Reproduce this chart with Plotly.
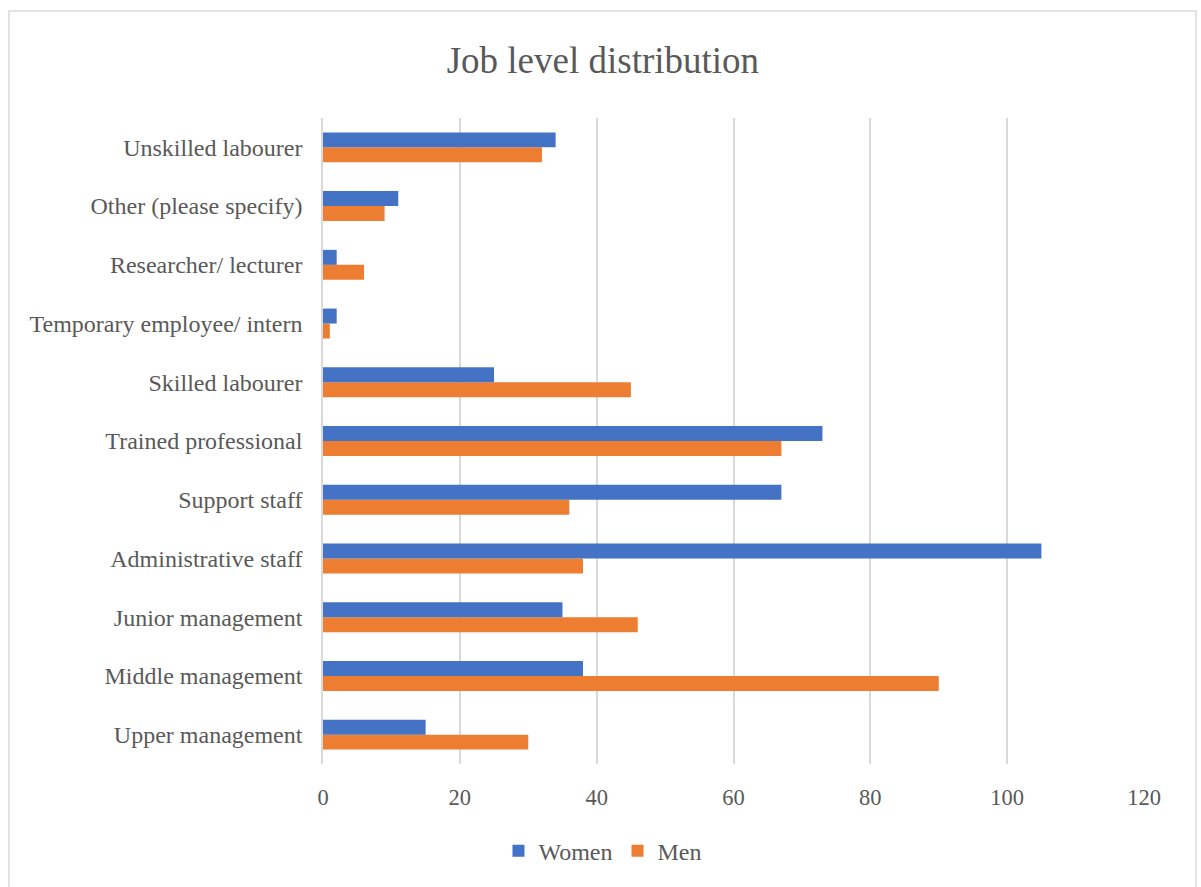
import plotly.graph_objects as go

# Job levels, listed bottom to top
categories = [
    "Upper management",
    "Middle management",
    "Junior management",
    "Administrative staff",
    "Support staff",
    "Trained professional",
    "Skilled labourer",
    "Temporary employee/ intern",
    "Researcher/ lecturer",
    "Other (please specify)",
    "Unskilled labourer",
]
women = [15, 38, 35, 105, 67, 73, 25, 2, 2, 11, 34]
men = [30, 90, 46, 38, 36, 67, 45, 1, 6, 9, 32]
x_ticks = [0, 20, 40, 60, 80, 100, 120]

FONT = "Liberation Serif, Times New Roman, serif"
TEXT = "#595959"
GRID = "#D9D9D9"

fig = go.Figure()
fig.add_trace(go.Bar(y=categories, x=men, name="Men", orientation="h",
                     marker=dict(color="#ED7D31", line=dict(width=0))))
fig.add_trace(go.Bar(y=categories, x=women, name="Women", orientation="h",
                     marker=dict(color="#4472C4", line=dict(width=0))))

# light outer frame around the chart
fig.add_shape(type="rect", xref="paper", yref="paper",
              x0=-0.3825, x1=1.0633, y0=-0.3, y1=1.1656,
              line=dict(color=GRID, width=1.5), layer="below")

fig.update_layout(
    width=1201, height=887,
    margin=dict(l=323, r=57, t=118, b=123),
    paper_bgcolor="white", plot_bgcolor="white",
    barmode="group", bargap=0.49, bargroupgap=0,
    font=dict(family=FONT, color=TEXT, size=24),
    title=dict(text="Job level distribution", x=0.502, xanchor="center",
               y=1 - 60 / 887, yanchor="middle", yref="container",
               font=dict(family=FONT, size=37, color=TEXT)),
    legend=dict(orientation="h", x=0.341, xanchor="center",
                y=-0.135, yanchor="middle", traceorder="reversed",
                font=dict(family=FONT, size=24, color=TEXT)),
    showlegend=True,
)
fig.update_xaxes(range=[0, 120], tickvals=x_ticks, showgrid=True,
                 gridcolor=GRID, gridwidth=1.5, zeroline=False,
                 showline=False, ticks="outside", ticklen=13,
                 tickcolor="rgba(0,0,0,0)", tickfont=dict(size=22.5))
fig.update_yaxes(showgrid=False, zeroline=False, showline=True,
                 linecolor=GRID, linewidth=1.5,
                 ticks="outside", ticklen=14, tickcolor="rgba(0,0,0,0)",
                 tickfont=dict(size=24), categoryorder="array",
                 categoryarray=categories)

fig.write_html("out.html")
